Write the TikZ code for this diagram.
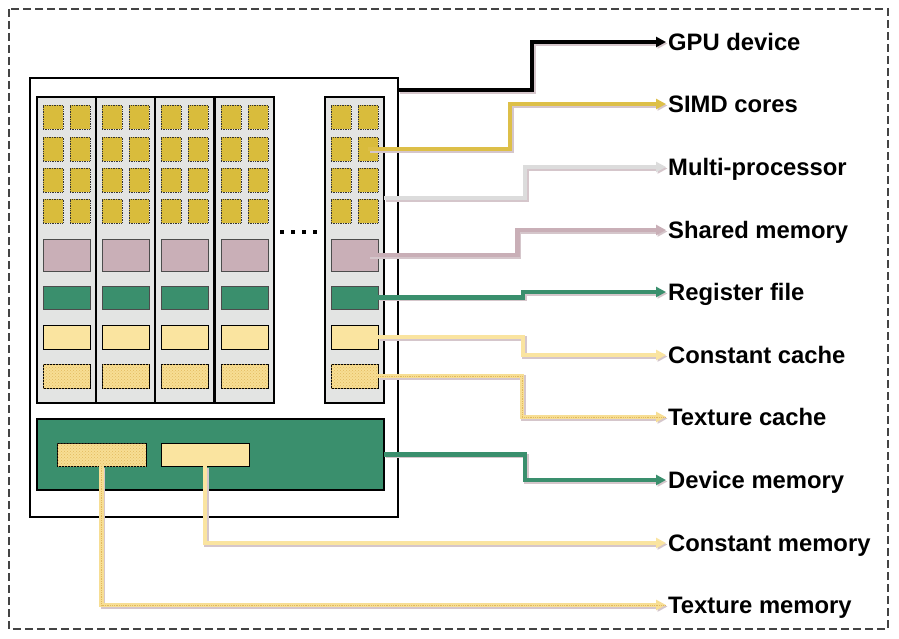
\documentclass[tikz,border=0pt]{standalone}
\usepackage{fontspec}
\setmainfont{Liberation Sans}
\usetikzlibrary{arrows.meta,patterns}
\definecolor{corec}{HTML}{D9BC3C}
\definecolor{shmc}{HTML}{C9AFB7}
\definecolor{regc}{HTML}{3A8F6D}
\definecolor{ccc}{HTML}{FAE4A0}
\definecolor{tcc}{HTML}{F7DE94}
\definecolor{tcdot}{HTML}{E2B95E}
\definecolor{colfill}{HTML}{E3E4E3}
\definecolor{mpline}{HTML}{DCDCDC}
\definecolor{simdline}{HTML}{DDBF48}
\definecolor{shadowc}{HTML}{D5C6CB}
\definecolor{borderc}{HTML}{444444}
\newcommand\myconn[2]{%
  \draw[shadowline, transform canvas={shift={(1.5pt,-1.5pt)}}] #2;
  \draw[conn,#1] #2;}
\begin{document}
\begin{tikzpicture}[x=1pt,y=-1pt,
  rbox/.style={anchor=north west, inner sep=0pt, outer sep=0pt},
  colbox/.style={rbox, draw=black, line width=2pt, fill=colfill},
  corebox/.style={rbox, draw=black!80, line width=0.7pt, densely dotted, fill=corec},
  shmbox/.style={rbox, draw=black!70, line width=0.8pt, fill=shmc},
  regbox/.style={rbox, draw=black!70, line width=0.8pt, fill=regc},
  ccbox/.style={rbox, draw=black, line width=0.8pt, fill=ccc},
  tcbox/.style={rbox, draw=black, line width=0.8pt, fill=tcc,
     postaction={pattern=crosshatch dots, pattern color=tcdot}},
  conn/.style={line width=4.5pt, line cap=butt, line join=miter,
     -{Triangle[length=10pt,width=10pt]}},
  shadowline/.style={conn, draw=shadowc},
  dotconn/.style={draw=tcc, postaction={draw=tcdot, -, line width=0.8pt, densely dotted}},
  lbl/.style={anchor=west, inner xsep=2pt, inner ysep=0pt, font=\fontsize{23.8}{24}\selectfont\bfseries,
     text height=17pt, text depth=0pt}
]
\useasboundingbox (0,0) rectangle (899,639);
% dashed border
\draw[borderc, line width=2.5pt, dash pattern=on 8pt off 4pt] (9,9) rectangle (888,629);
% GPU box
\node[rbox, draw=black, line width=2pt, fill=white, minimum width=368pt, minimum height=439pt] (gpu) at (30,78) {};
% multiprocessor columns
\foreach \i/\x in {1/37,2/96,3/155,4/215,5/325}{
  \node[colbox, minimum width=59pt, minimum height=306pt] (col\i) at (\x,97) {};
  \foreach \r/\y in {1/105,2/137,3/168,4/199}{
    \node[corebox, minimum width=20pt, minimum height=24pt] (core-\i-\r-1) at (\x+6,\y) {};
    \node[corebox, minimum width=20pt, minimum height=24pt] (core-\i-\r-2) at (\x+33,\y) {};
  }
  \node[shmbox, minimum width=47pt, minimum height=32pt] (shm-\i) at (\x+6,239) {};
  \node[regbox, minimum width=47pt, minimum height=23pt] (reg-\i) at (\x+6,286) {};
  \node[ccbox, minimum width=47pt, minimum height=24pt] (cc-\i) at (\x+6,325) {};
  \node[tcbox, minimum width=47pt, minimum height=24pt] (tc-\i) at (\x+6,364) {};
}
% dots
\foreach \k/\x in {1/282,2/293,3/304,4/315}{
  \fill[black] (\x-2,230) rectangle (\x+2,234);
}
% device memory
\node[rbox, draw=black, line width=2pt, fill=regc, minimum width=347pt, minimum height=71pt] (dev) at (37,419) {};
\node[tcbox, minimum width=89pt, minimum height=23pt] (tm) at (57,443) {};
\node[ccbox, minimum width=88pt, minimum height=23pt] (cm) at (161,443) {};
% labels
\node[lbl] (lgpu) at (666,42) {GPU device};
\node[lbl] (lsimd) at (666,104) {SIMD cores};
\node[lbl] (lmp) at (666,167) {Multi-processor};
\node[lbl] (lshm) at (666,230) {Shared memory};
\node[lbl] (lreg) at (666,292) {Register file};
\node[lbl] (lcc) at (666,355) {Constant cache};
\node[lbl] (ltc) at (666,417) {Texture cache};
\node[lbl] (ldev) at (666,480) {Device memory};
\node[lbl] (lcm) at (666,543) {Constant memory};
\node[lbl] (ltm) at (666,605) {Texture memory};
% connectors
\myconn{draw=black}{([yshift=-12pt]gpu.north east) -- ++(134,0) |- (lgpu.west)}
\myconn{draw=simdline}{(core-5-2-2.center) -- ++(142,0) |- (lsimd.west)}
\myconn{draw=mpline}{([yshift=52pt]col5.east) -- ++(141,0) |- (lmp.west)}
\myconn{draw=shmc}{([xshift=14pt]shm-5.center) -- ++(149,0) |- (lshm.west)}
\myconn{draw=regc}{(reg-5.east) -- ++(145,0) |- (lreg.west)}
\myconn{draw=ccc}{(cc-5.east) -- ++(145,0) |- (lcc.west)}
\myconn{dotconn}{(tc-5.east) -- ++(144,0) |- (ltc.west)}
\myconn{draw=regc}{(dev.east) -- ++(141,0) |- (ldev.west)}
\myconn{draw=ccc}{(cm.south) |- (lcm.west)}
\myconn{dotconn}{(tm.south) |- (ltm.west)}
\end{tikzpicture}
\end{document}
